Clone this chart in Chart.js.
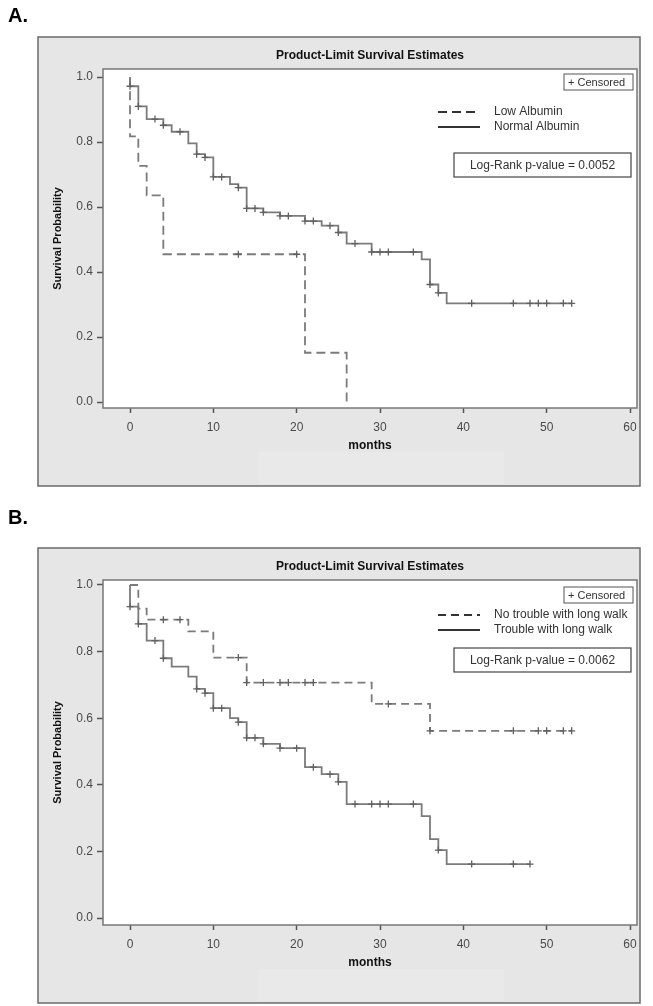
<!DOCTYPE html>
<html>
<head>
<meta charset="utf-8">
<script src="https://cdn.jsdelivr.net/npm/chart.js@4/dist/chart.umd.min.js"></script>
<style>
  body { margin: 0; background: #fff; }
  #wrap { position: relative; width: 653px; height: 1006px; }
  canvas { position: absolute; left: 0; }
</style>
</head>
<body>
<div id="wrap">
  <canvas id="chartA" width="653" height="500" style="top:0"></canvas>
  <canvas id="chartB" width="653" height="506" style="top:500px"></canvas>
</div>
<script>
// **************************
//    DATA
// **************************
const monthTicks = [0, 10, 20, 30, 40, 50, 60];
const survTicks = [0, 0.2, 0.4, 0.6, 0.8, 1.0];

// Panel A - albumin
const lowAlbTime = [0, 0, 1, 2, 4, 21, 26];
const lowAlbSurv = [1, 0.818, 0.727, 0.636, 0.455, 0.152, 0];
const lowAlbCens = [13, 20];

const normAlbTime = [0, 0, 1, 2, 4, 5, 7, 8, 9, 10, 12, 13, 14, 16, 18, 21, 23, 25, 26, 29, 35, 36, 37, 38, 53];
const normAlbSurv = [1, 0.972, 0.91, 0.871, 0.852, 0.832, 0.796, 0.763, 0.753, 0.693, 0.671, 0.66, 0.596, 0.584, 0.573, 0.557, 0.543, 0.522, 0.488, 0.462, 0.439, 0.362, 0.336, 0.304, 0.304];
const normAlbCens = [0, 1, 3, 4, 6, 8, 9, 10, 11, 13, 14, 15, 16, 18, 19, 21, 22, 24, 25, 27, 29, 30, 31, 34, 36, 37, 41, 46, 48, 49, 50, 52, 53];

// Panel B - long walk
const noTrbTime = [0, 1, 2, 7, 10, 14, 29, 36, 53];
const noTrbSurv = [1, 0.929, 0.896, 0.861, 0.782, 0.707, 0.643, 0.562, 0.562];
const noTrbCens = [4, 6, 13, 14, 16, 18, 19, 21, 22, 31, 36, 46, 49, 50, 52, 53];

const trbTime = [0, 0, 1, 2, 4, 5, 7, 8, 9, 10, 12, 13, 14, 16, 18, 21, 23, 25, 26, 35, 36, 37, 38, 48];
const trbSurv = [1, 0.935, 0.883, 0.833, 0.78, 0.755, 0.725, 0.688, 0.675, 0.63, 0.6, 0.588, 0.541, 0.523, 0.51, 0.453, 0.432, 0.409, 0.342, 0.306, 0.237, 0.204, 0.162, 0.162];
const trbCens = [0, 1, 3, 4, 8, 9, 10, 11, 13, 14, 15, 16, 18, 20, 22, 24, 25, 27, 29, 30, 31, 34, 37, 41, 46, 48];

// **************************
//    HELPERS
// **************************
const LINE = '#7b7b7b';
const FONT = '"Liberation Sans", Arial, sans-serif';
Chart.defaults.font.family = FONT;

function curve(times, surv) {
    return times.map((t, i) => ({ x: t, y: surv[i] }));
}

// censor mark sits on the curve level at that time
function censorPts(cens, times, surv) {
    return cens.map(c => {
        let y = surv[0];
        times.forEach((t, i) => { if (t <= c) y = surv[i]; });
        return { x: c, y: y };
    });
}

function kmLine(label, times, surv, dash) {
    return {
        label: label,
        data: curve(times, surv),
        stepped: true,
        borderColor: LINE,
        borderWidth: 1.8,
        borderDash: dash,
        pointRadius: 0,
        fill: false,
        order: 2
    };
}

function censLine(cens, times, surv) {
    return {
        label: '',
        data: censorPts(cens, times, surv),
        showLine: false,
        pointStyle: 'cross',
        pointRadius: 3.5,
        borderColor: '#606060',
        borderWidth: 1.3,
        order: 1
    };
}

// frame, titles, in-plot legend and p-value box
const kmDecor = {
    id: 'kmDecor',
    beforeDraw(chart, args, o) {
        const ctx = chart.ctx;
        const a = chart.chartArea;
        ctx.save();
        ctx.fillStyle = '#fff';
        ctx.fillRect(0, 0, chart.width, chart.height);

        // letter
        ctx.fillStyle = '#000';
        ctx.font = 'bold 20px ' + FONT;
        ctx.textBaseline = 'middle';
        ctx.textAlign = 'left';
        ctx.fillText(o.letter, 8, o.letterY);

        // grey frame
        ctx.fillStyle = '#e6e6e6';
        ctx.fillRect(38, o.frameTop, 602, o.frameBottom - o.frameTop);
        ctx.fillStyle = '#e9e9e9';
        ctx.fillRect(259, a.bottom + 44, 245, o.frameBottom - a.bottom - 46);
        ctx.strokeStyle = '#6a6a6a';
        ctx.lineWidth = 1.5;
        ctx.strokeRect(38, o.frameTop, 602, o.frameBottom - o.frameTop);

        ctx.fillStyle = '#fff';
        ctx.fillRect(a.left, a.top, a.width, a.height);

        // titles
        ctx.fillStyle = '#111';
        ctx.textAlign = 'center';
        ctx.font = 'bold 12px ' + FONT;
        ctx.fillText(o.title, (a.left + a.right) / 2, a.top - 13);
        ctx.fillText('months', (a.left + a.right) / 2, a.bottom + 38);
        ctx.save();
        ctx.translate(58, (a.top + a.bottom) / 2);
        ctx.rotate(-Math.PI / 2);
        ctx.font = 'bold 11px ' + FONT;
        ctx.fillText('Survival Probability', 0, 0);
        ctx.restore();
        ctx.restore();
    },
    afterDraw(chart, args, o) {
        const ctx = chart.ctx;
        const a = chart.chartArea;
        ctx.save();
        // plot box
        ctx.strokeStyle = '#777';
        ctx.lineWidth = 1.5;
        ctx.strokeRect(a.left, a.top, a.width, a.height);

        // censored box
        ctx.lineWidth = 1;
        ctx.strokeStyle = '#555';
        ctx.fillStyle = '#fff';
        ctx.fillRect(a.right - 73, a.top + o.censY, 69, 16);
        ctx.strokeRect(a.right - 73, a.top + o.censY, 69, 16);
        ctx.fillStyle = '#333';
        ctx.font = '11px ' + FONT;
        ctx.textAlign = 'left';
        ctx.textBaseline = 'middle';
        ctx.fillText('+ Censored', a.right - 69, a.top + o.censY + 8.5);

        // legend
        const curves = chart.data.datasets.filter(d => d.label);
        curves.forEach((d, i) => {
            const y = a.top + o.legY + i * 15;
            ctx.strokeStyle = '#333';
            ctx.lineWidth = 2;
            ctx.setLineDash(d.borderDash || []);
            ctx.beginPath();
            ctx.moveTo(a.right - 199, y);
            ctx.lineTo(a.right - 157, y);
            ctx.stroke();
            ctx.setLineDash([]);
            ctx.fillStyle = '#333';
            ctx.font = '12px ' + FONT;
            ctx.fillText(d.label, a.right - 143, y);
        });

        // p-value box
        ctx.strokeStyle = '#444';
        ctx.lineWidth = 1.2;
        ctx.strokeRect(a.right - 183, a.top + o.pY, 177, 24);
        ctx.fillStyle = '#333';
        ctx.textAlign = 'center';
        ctx.font = '12px ' + FONT;
        ctx.fillText(o.pText, a.right - 94.5, a.top + o.pY + 12.5);
        ctx.restore();
    }
};

function kmOptions(yMin, yMax, bottomPad, decor) {
    return {
        responsive: false,
        animation: false,
        devicePixelRatio: 1,
        layout: { padding: { left: 63, right: 16, top: decor.padTop, bottom: bottomPad } },
        plugins: {
            legend: { display: false },
            tooltip: { enabled: false },
            kmDecor: decor
        },
        scales: {
            x: {
                type: 'linear',
                min: -3.24,
                max: 60.84,
                afterBuildTicks: s => { s.ticks = monthTicks.map(v => ({ value: v })); },
                afterFit: s => { s.height = 30; },
                grid: { drawOnChartArea: false, tickLength: 5, tickColor: '#555', tickWidth: 1.5 },
                border: { display: false },
                ticks: { color: '#4a4a4a', font: { size: 12 }, padding: 7 }
            },
            y: {
                type: 'linear',
                min: yMin,
                max: yMax,
                afterBuildTicks: s => { s.ticks = survTicks.map(v => ({ value: v })); },
                afterFit: s => { s.width = 40; },
                grid: { drawOnChartArea: false, tickLength: 6, tickColor: '#555', tickWidth: 1.5 },
                border: { display: false },
                ticks: { color: '#4a4a4a', font: { size: 12 }, padding: 4, callback: v => v.toFixed(1) }
            }
        }
    };
}

// **************************
//    CHARTS
// **************************
new Chart(document.getElementById('chartA'), {
    type: 'line',
    data: {
        datasets: [
            kmLine('Low Albumin', lowAlbTime, lowAlbSurv, [9, 5]),
            kmLine('Normal Albumin', normAlbTime, normAlbSurv, []),
            censLine(lowAlbCens, lowAlbTime, lowAlbSurv),
            censLine(normAlbCens, normAlbTime, normAlbSurv)
        ]
    },
    options: kmOptions(-0.018, 1.025, 62, {
        letter: 'A.', letterY: 16, frameTop: 37, frameBottom: 486, padTop: 69,
        title: 'Product-Limit Survival Estimates',
        censY: 5, legY: 43, pY: 84, pText: 'Log-Rank p-value = 0.0052'
    }),
    plugins: [kmDecor]
});

new Chart(document.getElementById('chartB'), {
    type: 'line',
    data: {
        datasets: [
            kmLine('No trouble with long walk', noTrbTime, noTrbSurv, [8, 5]),
            kmLine('Trouble with long walk', trbTime, trbSurv, []),
            censLine(noTrbCens, noTrbTime, noTrbSurv),
            censLine(trbCens, trbTime, trbSurv)
        ]
    },
    options: kmOptions(-0.021, 1.015, 51, {
        letter: 'B.', letterY: 18, frameTop: 48, frameBottom: 503, padTop: 80,
        title: 'Product-Limit Survival Estimates',
        censY: 7, legY: 35, pY: 68, pText: 'Log-Rank p-value = 0.0062'
    }),
    plugins: [kmDecor]
});
</script>
</body>
</html>
